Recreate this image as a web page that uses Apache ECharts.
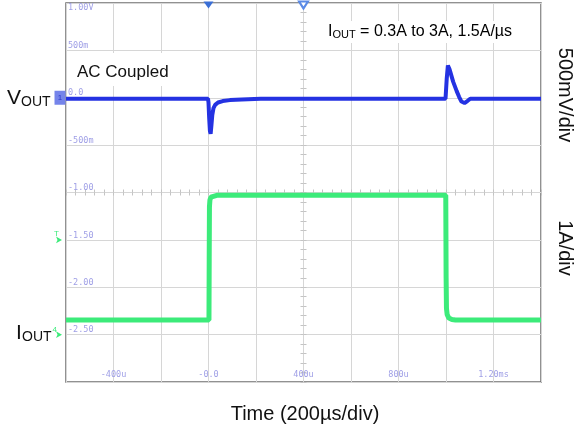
<!DOCTYPE html>
<html>
<head>
<meta charset="utf-8">
<script src="https://cdn.jsdelivr.net/npm/echarts@6/dist/echarts.min.js"></script>
<style>html,body{margin:0;padding:0;background:#fff}#c{width:576px;height:432px}</style>
</head>
<body>
<div id="c"></div>
<script>
// Time axis (µs), 200 µs/div
const xTicks = [-600, -400, -200, 0, 200, 400, 600, 800, 1000, 1200, 1400];
const xTickLabels = ['', '-400u', '', '-0.0', '', '400u', '', '800u', '', '1.20ms', ''];
// Voltage axis (V), 500 mV/div
const yTicks = [-3, -2.5, -2, -1.5, -1, -0.5, 0, 0.5, 1];
const yTickLabels = ['', '-2.50', '-2.00', '-1.50', '-1.00', '-500m', '0.0', '500m', '1.00V'];

// VOUT trace (AC coupled)
const vTime = [-600, -2, 0, 3, 6, 9, 12, 16, 21, 28, 40, 60, 90, 140, 220, 998, 1000, 1003, 1008, 1015, 1030, 1045, 1055, 1065, 1078, 1090, 1102, 1400];
const vVolt = [-0.01, -0.01, -0.05, -0.22, -0.35, -0.38, -0.3, -0.18, -0.11, -0.075, -0.05, -0.035, -0.025, -0.018, -0.01, -0.01, 0.0, 0.2, 0.34, 0.3, 0.17, 0.07, 0.01, -0.04, -0.055, -0.035, -0.01, -0.01];

// IOUT trace (A), 1 A/div
const cTime = [-600, 2, 3, 4, 6, 10, 18, 35, 999, 1000.5, 1002, 1005, 1012, 1025, 1040, 1400];
const cAmp = [0.31, 0.31, 1.6, 2.7, 2.84, 2.9, 2.93, 2.94, 2.94, 1.2, 0.55, 0.42, 0.35, 0.32, 0.31, 0.31];

const FONT = 'Liberation Sans, Arial, sans-serif';
const LBL = '#9f9fe6';
const BLUE = '#2432e2';
const GREEN = '#3ceb7a';

const chart = echarts.init(document.getElementById('c'), null, {renderer: 'canvas'});

function lookup(ticks, labels, v) {
  for (let i = 0; i < ticks.length; i++) if (Math.abs(ticks[i] - v) < 1e-6) return labels[i];
  return '';
}

const tickAxisX = (inside) => ({
  type: 'value', position: 'top', offset: -189.5, min: -600, max: 1400, interval: 40,
  axisLine: {show: false, onZero: false}, splitLine: {show: false}, axisLabel: {show: false},
  axisTick: {show: true, inside: inside, length: 3, lineStyle: {color: '#c4c4c4', width: 1}}
});
const tickAxisY = (inside) => ({
  type: 'value', position: 'left', offset: -237.5, min: -3, max: 1, interval: 0.1,
  axisLine: {show: false, onZero: false}, splitLine: {show: false}, axisLabel: {show: false},
  axisTick: {show: true, inside: inside, length: 3, lineStyle: {color: '#c4c4c4', width: 1}}
});

const option = {
  animation: false,
  backgroundColor: '#fff',
  grid: {left: 66, right: 35, top: 3, bottom: 50, show: true, borderColor: '#6e6e6e', borderWidth: 1.5, backgroundColor: '#fff'},
  xAxis: [
    {
      type: 'value', min: -600, max: 1400, interval: 200,
      axisLine: {show: false, onZero: false}, axisTick: {show: false},
      splitLine: {show: true, lineStyle: {color: '#d6d6d6', width: 1}},
      axisLabel: {inside: true, margin: 3, color: LBL, fontSize: 8.5, fontFamily: 'DejaVu Sans Mono',
        showMinLabel: false, showMaxLabel: false,
        formatter: v => lookup(xTicks, xTickLabels, v)}
    },
    tickAxisX(true), tickAxisX(false)
  ],
  yAxis: [
    {
      type: 'value', min: -3, max: 1, interval: 0.5, position: 'left',
      axisLine: {show: false, onZero: false}, axisTick: {show: false},
      splitLine: {show: true, lineStyle: {color: '#d6d6d6', width: 1}},
      axisLabel: {inside: true, margin: 2, color: LBL, fontSize: 8.5, fontFamily: 'DejaVu Sans Mono', verticalAlign: 'bottom',
        formatter: v => (v >= 1 ? '' : lookup(yTicks, yTickLabels, v))}
    },
    {type: 'value', min: -1, max: 7, position: 'right', show: false},
    {
      type: 'value', min: -3, max: 1, interval: 0.5, position: 'left',
      axisLine: {show: false, onZero: false}, axisTick: {show: false}, splitLine: {show: false},
      axisLabel: {inside: true, margin: 2, color: LBL, fontSize: 8.5, fontFamily: 'DejaVu Sans Mono', verticalAlign: 'top',
        formatter: v => (v >= 1 ? lookup(yTicks, yTickLabels, v) : '')}
    },
    tickAxisY(true), tickAxisY(false)
  ],
  series: [
    {
      name: 'IOUT', type: 'line', xAxisIndex: 0, yAxisIndex: 1, showSymbol: false, z: 3,
      data: cTime.map((t, i) => [t, cAmp[i]]),
      lineStyle: {color: GREEN, width: 5}, itemStyle: {color: GREEN},
      markPoint: {
        silent: true, animation: false,
        data: [
          {coord: [-600, 0], symbol: 'arrow', symbolRotate: -90, symbolSize: [5, 6], symbolOffset: [-4, 0],
            itemStyle: {color: GREEN}, label: {show: true, formatter: '4', position: 'left', distance: 1, color: GREEN, fontSize: 8, offset: [2, -5]}},
          {coord: [-600, 2], symbol: 'arrow', symbolRotate: -90, symbolSize: [5, 6], symbolOffset: [-4, 0],
            itemStyle: {color: GREEN}, label: {show: true, formatter: 'T', position: 'left', distance: 1, color: GREEN, fontSize: 8, offset: [4, -6]}}
        ]
      }
    },
    {
      name: 'VOUT', type: 'line', xAxisIndex: 0, yAxisIndex: 0, showSymbol: false, z: 4,
      data: vTime.map((t, i) => [t, vVolt[i]]),
      lineStyle: {color: BLUE, width: 4}, itemStyle: {color: BLUE},
      markPoint: {
        silent: true, animation: false,
        data: [
          {coord: [-600, 0], symbol: 'rect', symbolSize: [11, 14], symbolOffset: [-6, 0],
            itemStyle: {color: '#7584ea'}, label: {show: true, formatter: '1', color: '#2a38c8', fontSize: 8, position: 'inside'}},
          {coord: [0, 1], symbol: 'triangle', symbolRotate: 180, symbolSize: [10, 7], symbolOffset: [0, 2],
            itemStyle: {color: '#3a6fd6'}, label: {show: false}},
          {coord: [400, 1], symbol: 'emptyTriangle', symbolRotate: 180, symbolSize: [9, 7], symbolOffset: [0, 2],
            itemStyle: {color: '#5a8ae6', borderColor: '#5a8ae6', borderWidth: 1.2}, label: {show: false}}
        ]
      }
    }
  ],
  graphic: [
    {type: 'rect', left: 70, top: 53, z: 50, shape: {width: 104, height: 33}, style: {fill: '#fff'}},
    {type: 'text', left: 77, top: 64, z: 51, style: {text: 'AC Coupled', font: '17px ' + FONT, fill: '#111'}},
    {type: 'text', left: 7, top: 88, style: {text: 'V', font: '21px ' + FONT, fill: '#111'}},
    {type: 'text', left: 21, top: 95, style: {text: 'OUT', font: '14px ' + FONT, fill: '#111'}},
    {type: 'text', left: 16, top: 323, style: {text: 'I', font: '21px ' + FONT, fill: '#111'}},
    {type: 'text', left: 22, top: 330, style: {text: 'OUT', font: '14px ' + FONT, fill: '#111'}},
    {type: 'rect', left: 322, top: 21, z: 50, shape: {width: 203, height: 22}, style: {fill: '#fff'}},
    {type: 'text', left: 328, top: 24, z: 51, style: {
      text: '{a|I}{b|OUT}{a| = 0.3A to 3A, 1.5A/µs}',
      rich: {a: {fontSize: 16, fontFamily: FONT, color: '#111', verticalAlign: 'bottom', lineHeight: 18},
             b: {fontSize: 11, fontFamily: FONT, color: '#111', verticalAlign: 'bottom', lineHeight: 16}}}},
    {type: 'text', x: 565, y: 95, rotation: -Math.PI / 2, style: {text: '500mV/div', font: '20px ' + FONT, fill: '#111', align: 'center', verticalAlign: 'middle'}},
    {type: 'text', x: 565, y: 248, rotation: -Math.PI / 2, style: {text: '1A/div', font: '20px ' + FONT, fill: '#111', align: 'center', verticalAlign: 'middle'}},
    {type: 'text', x: 305, y: 414, style: {text: 'Time (200µs/div)', font: '20px ' + FONT, fill: '#111', align: 'center', verticalAlign: 'middle'}}
  ]
};
chart.setOption(option);
</script>
</body>
</html>
